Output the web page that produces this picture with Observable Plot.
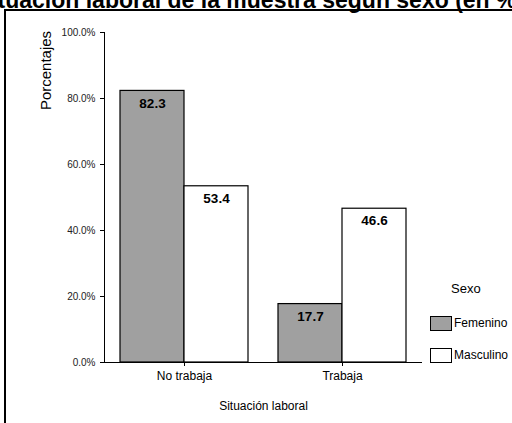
<!DOCTYPE html>
<html>
<head>
<meta charset="utf-8">
<script src="https://cdn.jsdelivr.net/npm/d3@7"></script>
<script src="https://cdn.jsdelivr.net/npm/@observablehq/plot@0.6"></script>
<style>
  html, body { margin: 0; padding: 0; background: #fff; }
  #wrap { position: relative; width: 512px; height: 423px; overflow: hidden; font-family: "Liberation Sans", Arial, sans-serif; }
  #title { position: absolute; left: -46px; width: 592px; top: -11px; text-align: center; font-size: 23px; line-height: 22px; font-weight: bold; color: #000; white-space: nowrap; z-index: 3; }
  #box { position: absolute; left: 4px; top: 9px; width: 600px; height: 500px; border-top: 2px solid #000; border-left: 2px solid #000; z-index: 2; pointer-events: none; }
  #chart { position: absolute; left: 0; top: 0; z-index: 1; }
  .leg { position: absolute; z-index: 3; color: #000; white-space: nowrap; }
  .sw { position: absolute; z-index: 3; width: 20px; height: 13px; border: 1px solid #000; }
</style>
</head>
<body>
<div id="wrap">
  <div id="title"></div>
  <div id="box"></div>
  <div id="chart"></div>
</div>
<script>
// ---- data ----
const titulo = "Situación laboral de la muestra según sexo (en %)";
const categorias = ["No trabaja", "Trabaja"];
const sexos = ["Femenino", "Masculino"];
const femenino = [82.3, 17.7];
const masculino = [53.4, 46.6];
const yTicks = [0, 20, 40, 60, 80, 100];
const etiquetaY = "Porcentajes";
const etiquetaX = "Situación laboral";
const tituloLeyenda = "Sexo";
const colores = ["#a0a0a0", "#ffffff"];

const fem = categorias.map((c, i) => ({cat: c, sexo: sexos[0], v: femenino[i]}));
const mas = categorias.map((c, i) => ({cat: c, sexo: sexos[1], v: masculino[i]}));

document.getElementById("title").textContent = titulo;

const half = 64;          // half of the category band (one bar)
const outer = 16;         // outer padding of the band scale
const fontTxt = "Liberation Sans, Arial, sans-serif";

const chart = Plot.plot({
  width: 512,
  height: 423,
  marginLeft: 104,
  marginRight: 90,
  marginTop: 32,
  marginBottom: 61,
  style: {background: "none", fontFamily: fontTxt, overflow: "visible"},
  x: {domain: categorias, paddingInner: 30 / 158, paddingOuter: outer / 158, label: null},
  y: {domain: [0, 100], label: null},
  marks: [
    Plot.barY(fem, {x: "cat", y: "v", fill: colores[0], stroke: "#000", strokeWidth: 1.2, insetRight: half}),
    Plot.barY(mas, {x: "cat", y: "v", fill: colores[1], stroke: "#000", strokeWidth: 1.2, insetLeft: half}),
    Plot.text(fem, {x: "cat", y: "v", text: d => d.v.toFixed(1), dx: -half / 2, dy: 7, lineAnchor: "top", fontWeight: "bold", fontSize: 13.5, fill: "#000"}),
    Plot.text(mas, {x: "cat", y: "v", text: d => d.v.toFixed(1), dx: half / 2, dy: 7, lineAnchor: "top", fontWeight: "bold", fontSize: 13.5, fill: "#000"}),
    Plot.ruleY([0], {stroke: "#000", strokeWidth: 1}),
    Plot.ruleX([categorias[0]], {x: d => d, y1: yTicks[0], y2: yTicks[yTicks.length - 1], dx: -(half + outer), stroke: "#000", strokeWidth: 1}),
    Plot.axisY({ticks: yTicks, tickSize: 4, tickPadding: 5, tickFormat: d => d.toFixed(1) + "%", fontSize: 10, fill: "#222", stroke: "#000", label: null}),
    Plot.axisX({tickSize: 4, tickPadding: 5, fontSize: 12, fill: "#000", stroke: "#000", label: null}),
    Plot.text([etiquetaX], {text: d => d, frameAnchor: "bottom", dy: 47, fontSize: 12, fill: "#000"}),
    Plot.text([etiquetaY], {text: d => d, frameAnchor: "top-left", textAnchor: "middle", rotate: -90, dx: -64, dy: 38, fontSize: 15, fill: "#000"})
  ]
});
document.getElementById("chart").appendChild(chart);

// legend
const wrap = document.getElementById("wrap");
const lt = document.createElement("div");
lt.className = "leg";
lt.textContent = tituloLeyenda;
lt.style.cssText = "left:451px;top:281px;font-size:13px;line-height:16px;";
wrap.appendChild(lt);
sexos.forEach((s, i) => {
  const top = 316 + i * 32;
  const sw = document.createElement("div");
  sw.className = "sw";
  sw.style.left = "430px";
  sw.style.top = top + "px";
  sw.style.background = colores[i];
  wrap.appendChild(sw);
  const t = document.createElement("div");
  t.className = "leg";
  t.textContent = s;
  t.style.cssText = `left:454px;top:${top}px;font-size:12px;line-height:15px;`;
  wrap.appendChild(t);
});
</script>
</body>
</html>
